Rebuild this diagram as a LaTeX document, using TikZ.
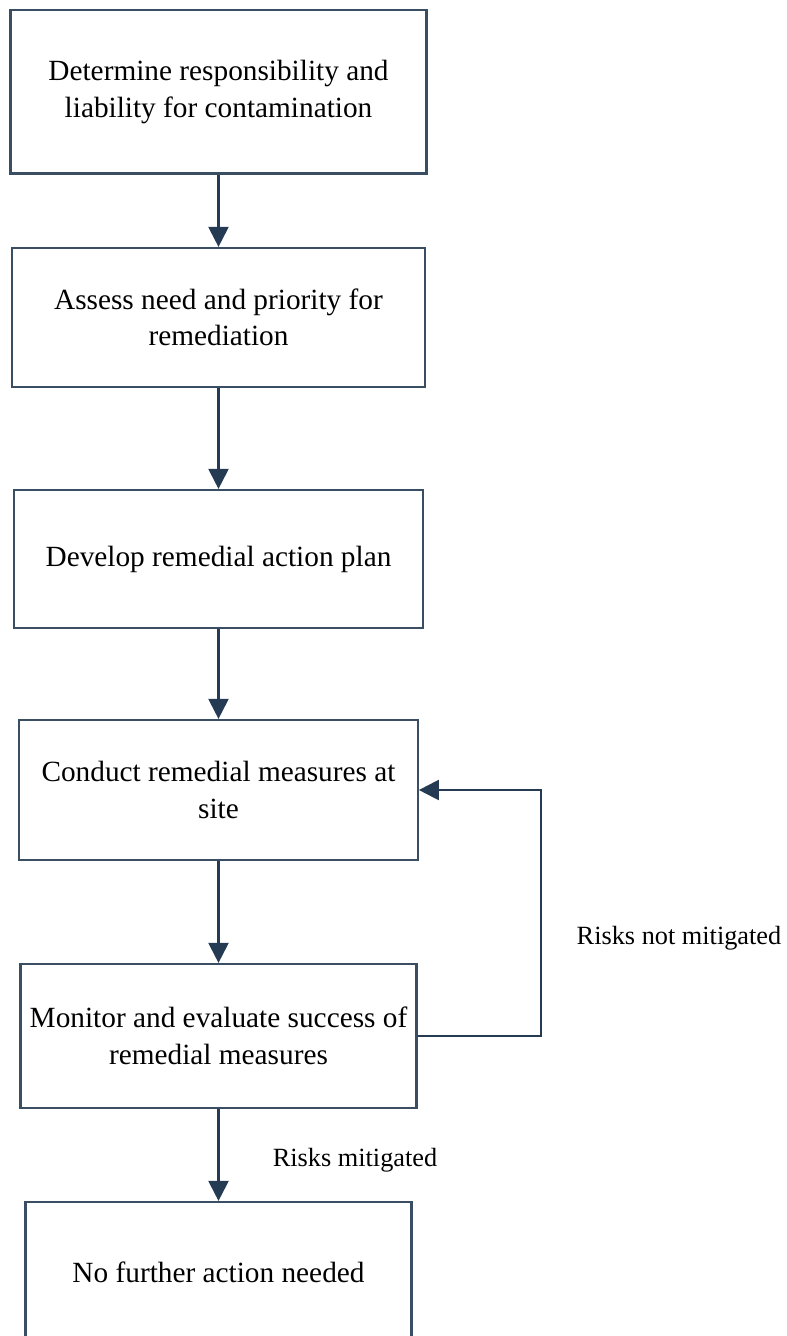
\documentclass[tikz,border=0pt]{standalone}
\usepackage{fontspec}
\setmainfont{Liberation Serif}
\usetikzlibrary{arrows.meta}
\definecolor{boxcol}{HTML}{3A4E63}
\definecolor{arrcol}{HTML}{243B53}
\tikzset{
  flowbox/.style={draw=boxcol, line width=2.2pt, rectangle, align=center, inner sep=0pt,
    font=\fontsize{29.3}{36.6}\selectfont},
  flowarrow/.style={draw=arrcol, line width=2.2pt, -{Triangle[length=20pt,width=20pt]}},
  lbl/.style={inner sep=0pt, font=\fontsize{26.3}{32}\selectfont}
}
\begin{document}
\begin{tikzpicture}[x=1pt,y=-1pt]
\clip (0,0) rectangle (787,1336);
\useasboundingbox (0,0) rectangle (787,1336);
\node[flowbox, minimum width=416pt, minimum height=163.5pt] (b1) at (218.5,91.75)
  {Determine responsibility and\\liability for contamination};
\node[flowbox, minimum width=413pt, minimum height=139pt] (b2) at (218.5,317.5)
  {Assess need and priority for\\remediation};
\node[flowbox, minimum width=409pt, minimum height=138pt] (b3) at (218.5,559)
  {Develop remedial action plan};
\node[flowbox, minimum width=398.5pt, minimum height=140pt] (b4) at (218.5,790)
  {Conduct remedial measures at\\site};
\node[flowbox, minimum width=396pt, minimum height=144pt] (b5) at (218.5,1036)
  {Monitor and evaluate success of\\remedial measures};
\node[flowbox, minimum width=386pt, minimum height=140pt] (b6) at (218.5,1272)
  {No further action needed};
\coordinate (c1) at (541,1036);
\coordinate (c2) at (541,790);
\draw[flowarrow] (b1.south) -- (b2.north);
\draw[flowarrow] (b2.south) -- (b3.north);
\draw[flowarrow] (b3.south) -- (b4.north);
\draw[flowarrow] (b4.south) -- (b5.north);
\draw[flowarrow] (b5.south) -- (b6.north);
\draw[flowarrow] (b5.east) -- (c1) -- (c2) -- (b4.east);
\node[lbl] (l1) at (679,938) {Risks not mitigated};
\node[lbl] (l2) at (355,1160) {Risks mitigated};
\end{tikzpicture}
\end{document}
